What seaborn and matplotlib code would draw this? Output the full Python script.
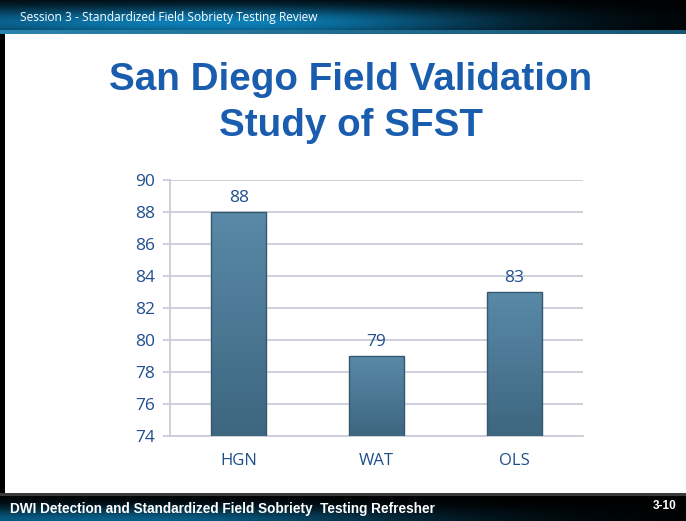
import numpy as np
import pandas as pd
import matplotlib
matplotlib.use("Agg")
import matplotlib.pyplot as plt
import seaborn as sns

# Field test accuracy (%) for each standardized test
tests = ["HGN", "WAT", "OLS"]
accuracy = [88, 79, 83]
y_ticks = [74, 76, 78, 80, 82, 84, 86, 88, 90]

title = "San Diego Field Validation\nStudy of SFST"
header = "Session 3 - Standardized Field Sobriety Testing Review"
footer = "DWI Detection and Standardized Field Sobriety  Testing Refresher"
page = "3-10"

sns.set_theme(style="white")
plt.rcParams["font.family"] = ["DejaVu Sans"]

W, H = 686, 521
fig = plt.figure(figsize=(W / 100, H / 100), dpi=100)
fig.patch.set_facecolor("white")


def band(y0, y1, glow_x, glow_w, strength, vert_center):
    """Black band with a horizontal blue glow, in pixel coordinates."""
    h = y1 - y0
    xs = np.arange(W)[None, :]
    ys = np.arange(h)[:, None] / max(h - 1, 1)
    gx = np.exp(-((xs - glow_x) / glow_w) ** 2)
    gx = np.where(xs < glow_x, 0.55 + 0.45 * gx, gx)
    gy = np.exp(-((ys - vert_center) / 0.55) ** 2)
    g = strength * gx * gy
    blue = np.array([0.05, 0.50, 0.72])
    img = g[..., None] * blue[None, None, :]
    ax = fig.add_axes([0, 1 - y1 / H, 1, h / H])
    ax.imshow(img, aspect="auto", extent=[0, W, h, 0], interpolation="bilinear")
    ax.set_axis_off()
    return ax


# Header band
hb = band(0, 30, 230, 260, 1.0, 0.75)
hb.text(20, 18, header, color="white", fontsize=8.6, va="center", ha="left",
        family=["Open Sans", "DejaVu Sans"])
strip = fig.add_axes([0, 1 - 34 / H, 1, 4 / H])
sx = np.linspace(0, 1, W)
sc = np.array([0.16, 0.52, 0.68])[None, :] * (1 - 0.35 * sx[:, None])
strip.imshow(np.repeat(sc[None, :, :], 2, axis=0), aspect="auto", extent=[0, W, 2, 0])
strip.set_axis_off()

# Left border line of the slide
lb = fig.add_axes([0, 1 - 493 / H, 5 / W, (493 - 34) / H])
lb.set_facecolor("black")
lb.set_xticks([]); lb.set_yticks([])
for s in lb.spines.values():
    s.set_visible(False)

# Footer band
gl = fig.add_axes([0, 1 - 496 / H, 1, 3 / H])
gl.set_facecolor("#3a3a3a")
gl.set_xticks([]); gl.set_yticks([])
for s in gl.spines.values():
    s.set_visible(False)
fb = band(496, 521, 120, 300, 0.75, 1.0)
fb.text(10, 13, footer, color="white", fontsize=9.8, fontweight="bold", va="center",
        ha="left", family=["Liberation Sans Narrow", "Liberation Sans", "DejaVu Sans"])
fb.text(677, 10, page, color="white", fontsize=8.5, fontweight="bold", va="center",
        ha="right", family=["Liberation Sans Narrow", "Liberation Sans", "DejaVu Sans"])

# Slide title
fig.text(351 / W, 1 - 103 / H, title, ha="center", va="center", color="#1A5DAE",
         fontsize=27.8, fontweight="bold", linespacing=1.33,
         family=["Liberation Sans", "DejaVu Sans"])

# Chart area
ax = fig.add_axes([170 / W, 1 - 436 / H, 413 / W, 256 / H])
df = pd.DataFrame({"test": tests, "accuracy": accuracy})
sns.barplot(data=df, x="test", y="accuracy", ax=ax, width=0.4, color="#4F7D9C",
            edgecolor="#35586f", linewidth=1.0, zorder=3)
ax.set_ylim(y_ticks[0], y_ticks[-1])
ax.set_yticks(y_ticks)
ax.set_xlim(-0.5, len(tests) - 0.5)

# Vertical gradient inside each bar, limited to the visible value range
grad = np.linspace(0, 1, 256)[:, None]
top_c = np.array([0.35, 0.54, 0.66])
bot_c = np.array([0.24, 0.40, 0.50])
gimg = top_c[None, None, :] * (1 - grad[..., None]) + bot_c[None, None, :] * grad[..., None]
ymin = y_ticks[0]
for p in ax.patches:
    x0, w = p.get_x(), p.get_width()
    top = p.get_y() + p.get_height()
    ax.imshow(gimg, extent=[x0, x0 + w, ymin, top], aspect="auto", zorder=3.5,
              interpolation="bilinear")
    p.set_zorder(4)
    p.set_facecolor("none")
ax.set_ylim(y_ticks[0], y_ticks[-1])
ax.set_xlim(-0.5, len(tests) - 0.5)

ax.bar_label(ax.containers[0], labels=[str(v) for v in accuracy], padding=4,
             color="#1F4E8C", fontsize=12.5, family=["Open Sans", "DejaVu Sans"])

grid_c = "#C9CDD9"
ax.yaxis.grid(True, color=grid_c, linewidth=1.3, zorder=0)
ax.set_axisbelow(True)
for side in ["top", "right"]:
    ax.spines[side].set_visible(False)
ax.spines["left"].set_color(grid_c)
ax.spines["bottom"].set_color(grid_c)
ax.spines["left"].set_linewidth(1.3)
ax.spines["bottom"].set_linewidth(1.3)
ax.tick_params(axis="y", length=5, width=1.3, color=grid_c, labelsize=12.5,
               labelcolor="#1F4E8C", pad=6, left=True)
ax.tick_params(axis="x", length=0, labelsize=12, labelcolor="#1F4E8C", pad=12)
for lab in ax.get_yticklabels() + ax.get_xticklabels():
    lab.set_family(["Open Sans", "DejaVu Sans"])
ax.set_xlabel("")
ax.set_ylabel("")

fig.savefig("out.png", dpi=100, facecolor="white")
